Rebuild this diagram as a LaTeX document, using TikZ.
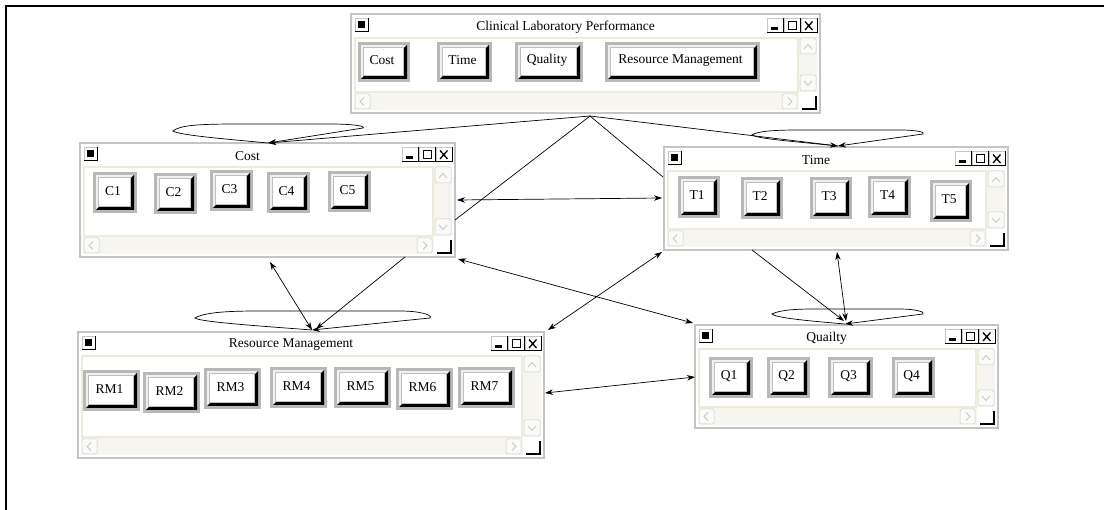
\documentclass[tikz,border=0pt]{standalone}
\usepackage{fontspec}
\setmainfont{Liberation Serif}
\usetikzlibrary{arrows.meta}
\definecolor{frameg}{HTML}{C4C4C4}
\definecolor{btng}{HTML}{B8B8B8}
\definecolor{beige}{HTML}{EEEBDD}
\definecolor{scrollbg}{HTML}{F6F5F0}
\definecolor{arrowg}{HTML}{C8C8C8}
\tikzset{
  conn/.style={draw=black, line width=0.7pt},
  tip/.style={-{Stealth[length=8pt,width=5.5pt]}},
  dtip/.style={{Stealth[length=8pt,width=5.5pt]}-{Stealth[length=8pt,width=5.5pt]}},
  ttl/.style={font=\fontsize{13.5}{14}\selectfont, inner sep=0pt},
  btxt/.style={font=\fontsize{13.5}{14}\selectfont, inner sep=0pt},
  winnode/.style={inner sep=0pt, draw=none},
  sbox/.style={draw=beige!70!gray, fill=scrollbg!50!white, line width=0.5pt, rounded corners=1.5pt},
  chev/.style={draw=arrowg, line width=0.9pt},
}
\newcommand\tbtn[4]{%
  \fill[white] (#1,#2) rectangle (#3,#4);
  \draw[gray!45, line width=0.6pt] (#1,#4) -- (#1,#2) -- (#3,#2);
  \draw[black, line width=1pt] (#1,#4) -- (#3,#4) -- (#3,#2);}
\newcommand\winbox[6]{% name x1 y1 x2 y2 title
  \fill[white] (#2,#3) rectangle (#4,#5);
  \draw[frameg, line width=2pt] (#2,#3) rectangle (#4,#5);
  \node[winnode, minimum width={(#4-#2)*1pt}, minimum height={(#5-#3)*1pt}] (#1) at ({(#2+#4)/2},{(#3+#5)/2}) {};
  % system icon
  \tbtn{#2+4}{#3+4}{#2+17}{#3+18}
  \fill[black] (#2+7,#3+7.5) rectangle (#2+13.5,#3+14);
  % title
  \node[ttl] (#1-title) at ({(#2+#4)/2-20},#3+13) {#6};
  % min max close
  \tbtn{#4-53}{#3+4}{#4-37}{#3+19}
  \tbtn{#4-36}{#3+4}{#4-20}{#3+19}
  \tbtn{#4-19}{#3+4}{#4-3}{#3+19}
  \fill[black] (#4-49,#3+13.5) rectangle (#4-42,#3+16);
  \draw[black, line width=1pt] (#4-32,#3+7.5) rectangle (#4-23.5,#3+16);
  \draw[black, line width=1.6pt] (#4-32,#3+7.5) -- (#4-23.5,#3+7.5);
  \draw[black, line width=1.3pt] (#4-15,#3+7.5) -- (#4-7.5,#3+16) (#4-15,#3+16) -- (#4-7.5,#3+7.5);
  % content
  \draw[beige, line width=2pt, fill=white] (#2+4,#3+24) rectangle (#4-22,#5-21);
  % vertical scroll
  \fill[scrollbg] (#4-21,#3+23) rectangle (#4-3,#5-21);
  \draw[sbox] (#4-20,#3+24) rectangle (#4-4,#3+40);
  \draw[chev] (#4-16,#3+35) -- (#4-12,#3+30.5) -- (#4-8,#3+35);
  \draw[sbox] (#4-20,#5-38) rectangle (#4-4,#5-22);
  \draw[chev] (#4-16,#5-32) -- (#4-12,#5-27.5) -- (#4-8,#5-32);
  % horizontal scroll
  \fill[scrollbg] (#2+3,#5-20) rectangle (#4-21,#5-3);
  \draw[sbox] (#2+4,#5-19) rectangle (#2+19,#5-4);
  \draw[chev] (#2+13,#5-15.5) -- (#2+9,#5-11.5) -- (#2+13,#5-7.5);
  \draw[sbox] (#4-38,#5-19) rectangle (#4-23,#5-4);
  \draw[chev] (#4-32,#5-15.5) -- (#4-28,#5-11.5) -- (#4-32,#5-7.5);
  % corner
  \fill[white] (#4-18,#5-17) rectangle (#4-4,#5-4);
  \draw[black, line width=1.1pt] (#4-18,#5-4) -- (#4-4,#5-4) -- (#4-4,#5-17);}
\newcommand\btn[6]{% name x1 y1 x2 y2 text
  \fill[btng] (#2,#3) rectangle (#4,#5);
  \fill[gray!12] (#2+3,#3+3) rectangle (#4-3,#5-3);
  \fill[black] (#4-3,#3+3) -- (#4-3,#5-3) -- (#2+3,#5-3) -- (#2+7,#5-7) -- (#4-7,#5-7) -- (#4-7,#3+7) -- cycle;
  \fill[white] (#2+5,#3+5) rectangle (#4-7,#5-7);
  \draw[gray!50, line width=0.6pt] (#2+5,#3+5) rectangle (#4-7,#5-7);
  \node[btxt] (#1) at ({(#2+#4)/2-2},{(#3+#5)/2-1.5}) {#6};}
\begin{document}
\begin{tikzpicture}[x=1pt,y=-1pt]
\useasboundingbox (0,0) rectangle (1104,510);
\fill[white] (0,0) rectangle (1104,510);
\draw[black, line width=2pt] (6,510) -- (6,6) -- (1104,6);

% windows
\winbox{clp}{351}{14}{820}{113}{Clinical Laboratory Performance}
\btn{bcost}{358}{42}{410}{82}{Cost}
\btn{btime}{437}{42}{492}{82}{Time}
\btn{bqual}{515}{42}{583}{82}{Quality}
\btn{brm}{605}{42}{760}{82}{Resource Management}

\winbox{cost}{80}{143}{455}{257}{Cost}
\btn{c1}{93}{172}{137}{213}{C1}
\btn{c2}{154}{173}{197}{214}{C2}
\btn{c3}{210}{170}{253}{211}{C3}
\btn{c4}{267}{172}{310}{213}{C4}
\btn{c5}{328}{171}{371}{212}{C5}

\winbox{time}{664}{147}{1008}{250}{Time}
\btn{t1}{678}{176}{720}{218}{T1}
\btn{t2}{741}{177}{783}{219}{T2}
\btn{t3}{810}{177}{852}{219}{T3}
\btn{t4}{868}{176}{911}{218}{T4}
\btn{t5}{930}{180}{972}{222}{T5}

\winbox{rm}{78}{332}{544}{458}{Resource Management}
\btn{rm1}{83}{370}{140}{411}{RM1}
\btn{rm2}{143}{372}{200}{413}{RM2}
\btn{rm3}{204}{368}{261}{409}{RM3}
\btn{rm4}{270}{367}{327}{408}{RM4}
\btn{rm5}{334}{367}{391}{408}{RM5}
\btn{rm6}{396}{368}{453}{410}{RM6}
\btn{rm7}{458}{367}{515}{408}{RM7}

\winbox{qual}{695}{325}{998}{428}{Quailty}
\btn{q1}{709}{357}{753}{398}{Q1}
\btn{q2}{767}{357}{810}{398}{Q2}
\btn{q3}{828}{357}{873}{398}{Q3}
\btn{q4}{892}{357}{935}{398}{Q4}

% connector points
\coordinate (apex) at (590,116);
\coordinate (costP) at (268,143);
\coordinate (timeP) at (838,146);
\coordinate (rmP) at (312,330);
\coordinate (qP) at (845,324);
\coordinate (costR1) at (455,220);
\coordinate (timeL1) at (663,177);
\coordinate (costR2) at (457,200);
\coordinate (timeL2) at (662,198);
\coordinate (costB1) at (270,262);
\coordinate (costB2) at (405,257);
\coordinate (rmT1) at (316,329);
\coordinate (costC) at (458,259);
\coordinate (qTL) at (693,323);
\coordinate (rmTR) at (548,330);
\coordinate (timeBL) at (662,252);
\coordinate (timeB1) at (752,250);
\coordinate (timeB2) at (837,252);
\coordinate (qT1) at (844,321);
\coordinate (qT2) at (846,321);
\coordinate (rmR) at (545,393);
\coordinate (qL) at (695,377);

% loops
\draw[conn, tip] (costP) .. controls (225,139) and (178,135) .. (173,131) .. controls (180,125) and (200,124) .. (240,124) -- (330,124) .. controls (352,124) and (366,126) .. (363,128) -- (costP);
\draw[conn, tip] (timeP) .. controls (800,142) and (758,139) .. (752,135) .. controls (758,131) and (775,130) .. (800,130) -- (900,130) .. controls (915,130) and (926,132) .. (923,134) -- (timeP);
\draw[conn, tip] (rmP) .. controls (260,326) and (200,322) .. (195,318) .. controls (205,312) and (230,311) .. (260,311) -- (400,311) .. controls (420,311) and (433,315) .. (430,318) -- (rmP);
\draw[conn, tip] (qP) .. controls (810,321) and (776,318) .. (772,314) .. controls (780,310) and (795,309) .. (815,309) -- (900,309) .. controls (915,309) and (926,312) .. (923,314) -- (qP);

% edges
\draw[conn, tip] (apex) -- (costP);
\draw[conn, tip] (apex) -- (timeP);
\draw[conn] (apex) -- (costR1);
\draw[conn] (apex) -- (timeL1);
\draw[conn, dtip] (costR2) -- (timeL2);
\draw[conn, dtip] (costB1) -- (rmP);
\draw[conn, tip] (costB2) -- (rmT1);
\draw[conn, dtip] (costC) -- (qTL);
\draw[conn, dtip] (rmTR) -- (timeBL);
\draw[conn, tip] (timeB1) -- (qT1);
\draw[conn, dtip] (timeB2) -- (qT2);
\draw[conn, dtip] (rmR) -- (qL);
\end{tikzpicture}
\end{document}
